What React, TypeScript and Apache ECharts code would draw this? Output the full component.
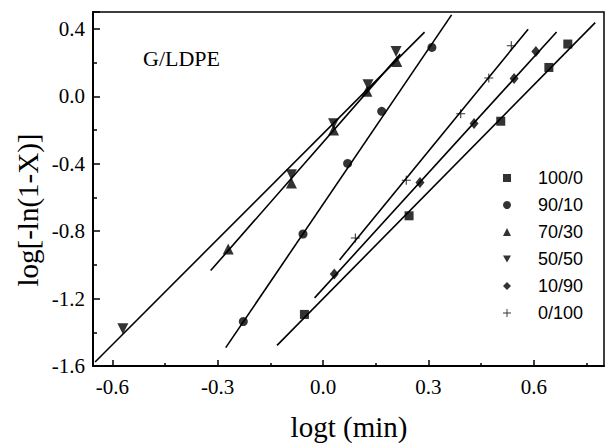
import React, { useEffect, useRef } from "react";
import * as echarts from "echarts";

// Series names (legend)
const seriesNames = ["100/0", "90/10", "70/30", "50/50", "10/90", "0/100"];

// Measured points [logt, log(-ln(1-X))]
const s100_0 = [[-0.053, -1.294], [0.245, -0.709], [0.506, -0.148], [0.643, 0.171], [0.697, 0.31]];
const s90_10 = [[-0.227, -1.336], [-0.057, -0.817], [0.07, -0.398], [0.167, -0.089], [0.31, 0.29]];
const s70_30 = [[-0.27, -0.906], [-0.09, -0.515], [0.03, -0.2], [0.125, 0.03], [0.21, 0.207]];
const s50_50 = [[-0.57, -1.379], [-0.09, -0.465], [0.03, -0.163], [0.128, 0.069], [0.208, 0.266]];
const s10_90 = [[0.032, -1.054], [0.276, -0.512], [0.43, -0.161], [0.544, 0.105], [0.606, 0.266]];
const s0_100 = [[0.092, -0.841], [0.237, -0.498], [0.392, -0.104], [0.472, 0.108], [0.536, 0.3]];

// Fitted straight lines (end points)
const fit100_0 = [[-0.131, -1.478], [0.775, 0.437]];
const fit90_10 = [[-0.277, -1.491], [0.366, 0.483]];
const fit70_30 = [[-0.32, -1.034], [0.22, 0.25]];
const fit50_50 = [[-0.649, -1.576], [0.289, 0.381]];
const fit10_90 = [[-0.024, -1.196], [0.665, 0.381]];
const fit0_100 = [[0.047, -0.971], [0.584, 0.398]];

// Axis ticks
const xMajorTicks = [-0.6, -0.3, 0.0, 0.3, 0.6];
const xMinorTicks = [-0.45, -0.15, 0.15, 0.45, 0.75];

const PLUS = "path://M4.4,0H5.6V10H4.4ZM0,4.4H10V5.6H0Z";
const TRI_DOWN = "path://M0,0L10,0L5,9Z";

export default function App() {
  const ref = useRef<HTMLDivElement>(null);
  useEffect(() => {
    if (!ref.current) return;
    const chart = echarts.init(ref.current, undefined, { renderer: "svg" });
    const serif = "Liberation Serif";
    const sans = "Liberation Sans";
    const pts = [s100_0, s90_10, s70_30, s50_50, s10_90, s0_100];
    const fits = [fit100_0, fit90_10, fit70_30, fit50_50, fit10_90, fit0_100];
    const symbols: any[] = ["rect", "circle", "triangle", TRI_DOWN, "diamond", PLUS];
    const sizes: any[] = [9, 9, 11, 11, [9, 11], 9];
    const scatter = pts.map((d, i) => ({
      type: "scatter",
      name: seriesNames[i],
      data: d,
      symbol: symbols[i],
      symbolSize: sizes[i],
      itemStyle: { color: "#000" },
      z: 3,
    }));
    const lines = fits.map((d, i) => ({
      type: "line",
      name: "fit " + seriesNames[i],
      data: d,
      showSymbol: false,
      symbol: "none",
      lineStyle: { color: "#000", width: 1.6 },
      z: 2,
    }));
    chart.setOption({
      animation: false,
      backgroundColor: "#fff",
      grid: {
        left: 93,
        top: 12,
        right: 3,
        bottom: 77,
        show: true,
        borderColor: "#000",
        borderWidth: 1.5,
      },
      legend: {
        orient: "vertical",
        left: 498,
        top: 164,
        itemWidth: 8,
        itemHeight: 8,
        itemGap: 9,
        selectedMode: false,
        data: seriesNames.map((n, i) => ({ name: n, icon: symbols[i] })),
        textStyle: { fontSize: 18, fontFamily: sans, color: "#000", lineHeight: 18, padding: [0, 0, 0, 22] },
      },
      xAxis: [
        {
          type: "value",
          min: -0.655,
          max: 0.8,
          axisLine: { onZero: false, lineStyle: { color: "#000", width: 2 } },
          axisTick: { inside: true, length: 6, customValues: xMajorTicks, lineStyle: { color: "#000", width: 1.5 } },
          axisLabel: {
            customValues: xMajorTicks,
            formatter: (v: number) => v.toFixed(1),
            fontFamily: serif,
            fontSize: 21,
            color: "#000",
            margin: 10,
          },
          splitLine: { show: false },
        },
        {
          type: "value",
          min: -0.655,
          max: 0.8,
          position: "bottom",
          axisLine: { show: false, onZero: false },
          axisTick: { inside: true, length: 3, customValues: xMinorTicks, lineStyle: { color: "#000", width: 1.5 } },
          axisLabel: { show: false },
          splitLine: { show: false },
        },
      ],
      yAxis: {
        type: "value",
        min: -1.6,
        max: 0.5,
        interval: 0.4,
        axisLine: { show: true, onZero: false, lineStyle: { color: "#000", width: 2 } },
        axisTick: { show: true, inside: true, length: 7, lineStyle: { color: "#000", width: 1.5 } },
        minorTick: { show: true, splitNumber: 2, length: 4, lineStyle: { color: "#000", width: 1.5 } },
        axisLabel: {
          formatter: (v: number) => v.toFixed(1),
          fontFamily: serif,
          fontSize: 21,
          color: "#000",
          margin: 8,
        },
        splitLine: { show: false },
      },
      graphic: [
        {
          type: "text",
          x: 28,
          y: 210,
          rotation: Math.PI / 2,
          style: {
            text: "log[-ln(1-X)]",
            fontFamily: serif,
            fontSize: 29,
            fill: "#000",
            align: "center",
            verticalAlign: "middle",
          },
        },
        {
          type: "text",
          x: 349,
          y: 427,
          style: {
            text: "logt (min)",
            fontFamily: serif,
            fontSize: 29,
            fill: "#000",
            align: "center",
            verticalAlign: "middle",
          },
        },
        {
          type: "text",
          x: 143,
          y: 58,
          style: {
            text: "G/LDPE",
            fontFamily: serif,
            fontSize: 22,
            fill: "#000",
            align: "left",
            verticalAlign: "middle",
          },
        },
      ],
      series: [...lines, ...scatter],
    });
    return () => chart.dispose();
  }, []);
  return <div ref={ref} style={{ width: 607, height: 443, position: "absolute", left: 0, top: 0 }} />;
}
